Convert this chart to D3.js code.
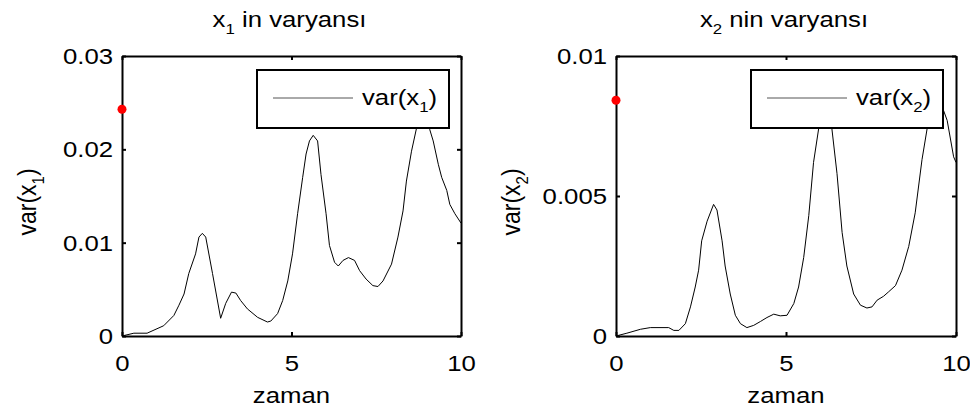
<!DOCTYPE html>
<html>
<head>
<meta charset="utf-8">
<script src="https://cdn.jsdelivr.net/npm/d3@7"></script>
<style>
  body { margin: 0; background: #fff; }
  svg { display: block; font-family: "Liberation Sans", Arial, sans-serif; }
</style>
</head>
<body>
<svg id="chart" width="970" height="416"></svg>
<script>
// time samples and variance values
const t1 = [0,0.35,0.74,1.23,1.53,1.68,1.83,1.97,2.17,2.27,2.37,2.47,2.67,2.91,3.06,3.23,3.36,3.50,3.70,4.0,4.29,4.39,4.59,4.74,4.89,5.03,5.18,5.33,5.43,5.53,5.64,5.77,5.87,6.02,6.12,6.27,6.38,6.52,6.68,6.86,7.01,7.20,7.40,7.55,7.70,7.95,8.14,8.29,8.39,8.54,8.69,8.85,9.0,9.08,9.18,9.33,9.43,9.58,9.67,9.82,10];
const v1 = [0,0.0003,0.0003,0.0011,0.0022,0.0033,0.0045,0.0067,0.0088,0.0106,0.0110,0.0106,0.0067,0.0019,0.0035,0.0047,0.0046,0.0038,0.0029,0.0020,0.0015,0.0016,0.0024,0.0038,0.0059,0.0088,0.0131,0.0170,0.0195,0.0209,0.0215,0.0209,0.0173,0.0131,0.0097,0.0079,0.0075,0.0081,0.0084,0.0081,0.0070,0.0061,0.0054,0.0053,0.0059,0.0077,0.0106,0.0134,0.0166,0.0198,0.0223,0.0245,0.0240,0.0221,0.0209,0.0184,0.0170,0.0156,0.0141,0.0131,0.0121];

const t2 = [0,0.32,0.72,1.01,1.55,1.70,1.85,2.04,2.19,2.33,2.43,2.52,2.68,2.87,2.97,3.12,3.21,3.36,3.51,3.66,3.85,4.05,4.25,4.44,4.64,4.83,5.03,5.23,5.37,5.52,5.67,5.81,5.96,6.15,6.35,6.50,6.65,6.79,6.99,7.19,7.38,7.53,7.68,7.87,8.02,8.22,8.41,8.61,8.80,9.0,9.15,9.4,9.56,9.74,9.93,10];
const v2 = [0,0.0001,0.00024,0.0003,0.0003,0.0002,0.0002,0.00044,0.00104,0.00175,0.00235,0.0034,0.0041,0.0047,0.0045,0.0034,0.0025,0.0015,0.00074,0.00044,0.0003,0.00038,0.00052,0.00066,0.00078,0.00072,0.00074,0.00116,0.00175,0.0028,0.0043,0.0062,0.0074,0.0085,0.0074,0.0058,0.0037,0.0025,0.0015,0.0011,0.0010,0.00104,0.00128,0.00142,0.00158,0.0018,0.00235,0.0032,0.0044,0.0063,0.0074,0.0088,0.0083,0.0077,0.0064,0.0062];

const xTicks = [0, 5, 10];
const yTicks1 = [0, 0.01, 0.02, 0.03];
const yTicks2 = [0, 0.005, 0.01];
const start1 = 0.0243, start2 = 0.00842;   // red markers at t = 0

const FS = 23, SX = 1.12;   // font size, horizontal stretch of the text

var svg = d3.select("#chart");

// text with a subscript, e.g. "var(x" + "1" + ")"
function subText(sel, pre, sub, post) {
  sel.append("tspan").text(pre);
  sel.append("tspan").attr("font-size", 15).attr("dy", 7).text(sub);
  sel.append("tspan").attr("dy", -7).text(post);
}

function panel(opt) {
  var x = d3.scaleLinear().domain([0, 10]).range([opt.left, opt.right]);
  var y = d3.scaleLinear().domain([0, opt.ymax]).range([opt.bottom, opt.top]);
  var g = svg.append("g");

  g.append("clipPath").attr("id", opt.id + "-clip")
    .append("rect")
    .attr("x", opt.left).attr("y", opt.top)
    .attr("width", opt.right - opt.left).attr("height", opt.bottom - opt.top);

  var line = d3.line().x(function (d) { return x(d[0]); }).y(function (d) { return y(d[1]); });
  g.append("path")
    .datum(opt.t.map(function (t, i) { return [t, opt.v[i]]; }))
    .attr("clip-path", "url(#" + opt.id + "-clip)")
    .attr("fill", "none").attr("stroke", "#000").attr("stroke-width", 1)
    .attr("d", line);

  // axes with inward ticks on all four sides
  g.append("g").attr("transform", "translate(0," + opt.bottom + ")")
    .call(d3.axisBottom(x).tickValues(xTicks).tickSizeInner(-4).tickSizeOuter(0).tickPadding(19).tickFormat(d3.format("d")));
  g.append("g").attr("transform", "translate(0," + opt.top + ")")
    .call(d3.axisTop(x).tickValues(xTicks).tickSizeInner(-4).tickSizeOuter(0).tickFormat(""));
  g.append("g").attr("transform", "translate(" + opt.left + ",0)")
    .call(d3.axisLeft(y).tickValues(opt.yTicks).tickSizeInner(-4).tickSizeOuter(0).tickPadding(8).tickFormat(function (d) { return d === 0 ? "0" : String(+d.toFixed(3)); }));
  g.append("g").attr("transform", "translate(" + opt.right + ",0)")
    .call(d3.axisRight(y).tickValues(opt.yTicks).tickSizeInner(-4).tickSizeOuter(0).tickFormat(""));

  g.selectAll(".domain").attr("stroke", "#000").attr("stroke-width", 2);
  g.selectAll(".tick line").attr("stroke", "#000").attr("stroke-width", 2);
  g.selectAll(".tick text").attr("font-size", FS).attr("fill", "#000")
    .attr("font-family", "Liberation Sans, Arial, sans-serif")
    .attr("transform", "scale(" + SX + ",1)");

  // red starting point
  g.append("circle").attr("cx", x(0)).attr("cy", y(opt.start)).attr("r", 4.5).attr("fill", "#f00");

  // title with subscript
  var cx = (opt.left + opt.right) / 2;
  var title = g.append("text").attr("transform", "translate(" + (cx - 2) + ",27) scale(" + SX + ",1)")
    .attr("text-anchor", "middle").attr("font-size", FS);
  subText(title, "x", opt.sub, " " + opt.title);

  // x label
  g.append("text").attr("transform", "translate(" + cx + ",403) scale(" + SX + ",1)")
    .attr("text-anchor", "middle").attr("font-size", FS).text("zaman");

  // y label (rotated)
  var yl = g.append("text")
    .attr("transform", "translate(" + opt.ylabelX + "," + ((opt.top + opt.bottom) / 2 + 6) + ") rotate(-90) scale(1," + SX + ")")
    .attr("text-anchor", "middle").attr("font-size", FS);
  subText(yl, "var(x", opt.sub, ")");

  // legend box
  var lg = g.append("g");
  lg.append("rect").attr("x", opt.legX).attr("y", 70).attr("width", 192).attr("height", 58)
    .attr("fill", "#fff").attr("stroke", "#000").attr("stroke-width", 2);
  lg.append("line").attr("x1", opt.legX + 16).attr("x2", opt.legX + 96).attr("y1", 98).attr("y2", 98)
    .attr("stroke", "#555").attr("stroke-width", 1);
  var lt = lg.append("text").attr("transform", "translate(" + (opt.legX + 105) + ",105) scale(" + SX + ",1)")
    .attr("font-size", FS);
  subText(lt, "var(x", opt.sub, ")");
}

panel({ id: "p1", left: 122, right: 461, top: 56, bottom: 336, ymax: 0.03, yTicks: yTicks1,
  t: t1, v: v1, start: start1, sub: "1", title: "in varyansı", ylabelX: 36, legX: 257 });
panel({ id: "p2", left: 616, right: 956, top: 56, bottom: 336, ymax: 0.01, yTicks: yTicks2,
  t: t2, v: v2, start: start2, sub: "2", title: "nin varyansı", ylabelX: 520, legX: 751 });
</script>
</body>
</html>
